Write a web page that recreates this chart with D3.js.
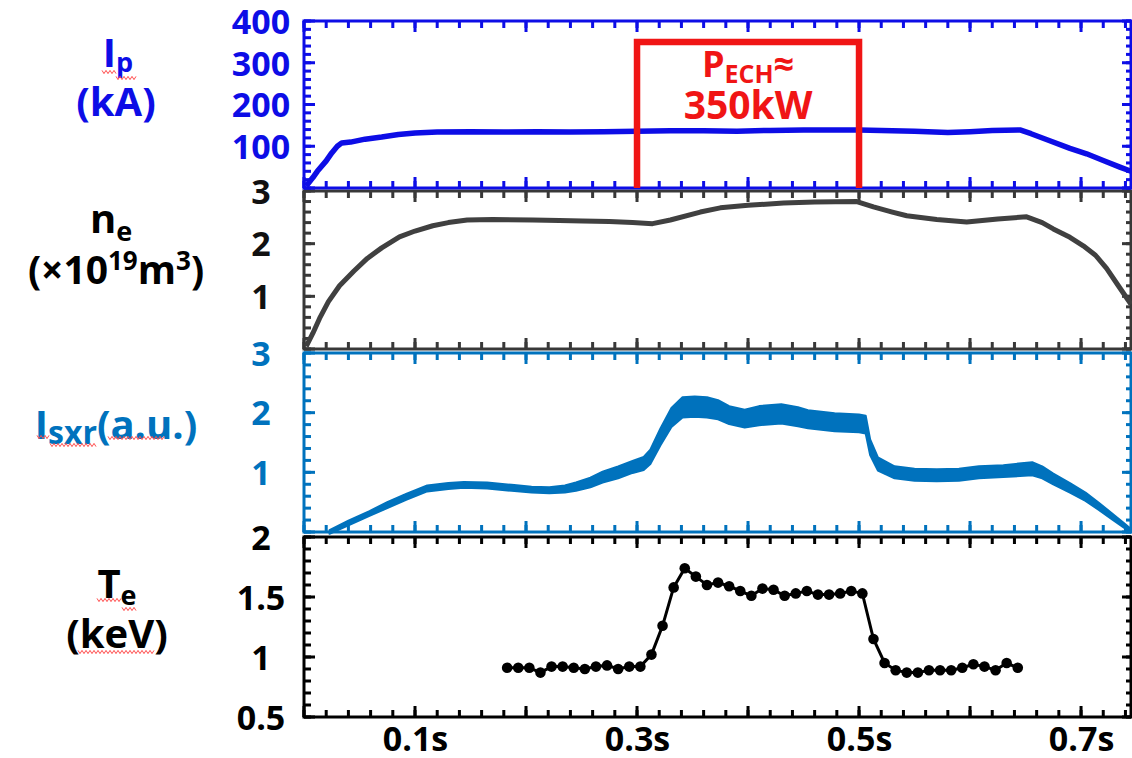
<!DOCTYPE html>
<html>
<head>
<meta charset="utf-8">
<script src="https://cdn.jsdelivr.net/npm/d3@7"></script>
<style>
  body { margin: 0; background: #fff; }
  svg { display: block; font-family: "Open Sans", "Noto Sans", sans-serif; font-weight: 700; }
</style>
</head>
<body>
<svg id="chart" width="1132" height="758"></svg>
<script>
// ---- time axis ----
const timeTicks = [0.1, 0.3, 0.5, 0.7];
const timeTickLabels = ["0.1s", "0.3s", "0.5s", "0.7s"];

// ---- plasma current Ip (kA) ----
const ipTime  = [0.002, 0.008, 0.012, 0.020, 0.025, 0.030, 0.034, 0.042, 0.055, 0.070, 0.085, 0.100,
                 0.120, 0.150, 0.180, 0.210, 0.240, 0.270, 0.300, 0.330, 0.360, 0.390, 0.420, 0.450,
                 0.480, 0.500, 0.520, 0.550, 0.580, 0.600, 0.620, 0.645, 0.655, 0.670, 0.690, 0.705,
                 0.720, 0.735, 0.745];
const ipValue = [5, 25, 40, 65, 84, 100, 108, 110, 117, 122, 128, 132,
                 134, 135, 134, 135, 134, 135, 136, 137, 137, 136, 138, 139,
                 139, 139, 138, 136, 133, 135, 138, 139, 130, 115, 95, 82,
                 66, 50, 40];
const ipTicks = [100, 200, 300, 400];

// ---- ECH heating window ----
const echWindow = [0.3, 0.5];
const echPower = 350;          // kW
const echLabel = "350kW";

// ---- line-averaged density ne (1e19 m^-3) ----
const neTime  = [0.002, 0.008, 0.014, 0.022, 0.032, 0.045, 0.057, 0.070, 0.086, 0.100, 0.116, 0.130,
                 0.147, 0.170, 0.206, 0.230, 0.251, 0.275, 0.296, 0.314, 0.330, 0.357, 0.375, 0.400,
                 0.432, 0.460, 0.498, 0.513, 0.530, 0.543, 0.570, 0.597, 0.625, 0.651, 0.665, 0.675,
                 0.690, 0.702, 0.713, 0.723, 0.733, 0.745];
const neValue = [0.05, 0.30, 0.58, 0.90, 1.20, 1.48, 1.72, 1.92, 2.13, 2.24, 2.34, 2.40,
                 2.45, 2.46, 2.45, 2.44, 2.43, 2.42, 2.40, 2.38, 2.45, 2.60, 2.68, 2.73,
                 2.77, 2.79, 2.80, 2.70, 2.60, 2.53, 2.46, 2.41, 2.47, 2.51, 2.40, 2.28,
                 2.12, 1.96, 1.78, 1.53, 1.22, 0.85];
const neTicks = [1, 2, 3];

// ---- soft X-ray intensity (a.u.): centre of the trace and half-width of its noise band ----
const sxrTime   = [0.023, 0.040, 0.059, 0.075, 0.092, 0.111, 0.130, 0.144, 0.165, 0.187, 0.205, 0.221,
                   0.235, 0.245, 0.258, 0.269, 0.283, 0.296, 0.306, 0.312, 0.321, 0.331, 0.341, 0.352,
                   0.363, 0.373, 0.383, 0.397, 0.410, 0.430, 0.445, 0.454, 0.478, 0.500, 0.506, 0.510,
                   0.517, 0.532, 0.550, 0.570, 0.590, 0.608, 0.630, 0.656, 0.665, 0.675, 0.690, 0.704,
                   0.716, 0.728, 0.738, 0.745];
const sxrCenter = [0.00, 0.15, 0.31, 0.45, 0.59, 0.73, 0.77, 0.79, 0.78, 0.74, 0.71, 0.70,
                   0.72, 0.76, 0.83, 0.92, 1.00, 1.09, 1.15, 1.26, 1.59, 1.92, 2.09, 2.10,
                   2.09, 2.05, 1.96, 1.90, 1.95, 1.98, 1.93, 1.89, 1.84, 1.82, 1.80, 1.42,
                   1.14, 1.00, 0.96, 0.95, 0.96, 1.00, 1.02, 1.06, 1.00, 0.89, 0.74, 0.59,
                   0.43, 0.26, 0.12, 0.02];
const sxrSpread = [0.03, 0.04, 0.04, 0.05, 0.05, 0.05, 0.05, 0.05, 0.05, 0.05, 0.05, 0.05,
                   0.06, 0.07, 0.08, 0.09, 0.10, 0.10, 0.11, 0.12, 0.14, 0.16, 0.17, 0.17,
                   0.17, 0.16, 0.15, 0.15, 0.16, 0.16, 0.16, 0.15, 0.15, 0.15, 0.15, 0.13,
                   0.11, 0.10, 0.10, 0.10, 0.10, 0.10, 0.10, 0.11, 0.10, 0.09, 0.08, 0.07,
                   0.06, 0.05, 0.04, 0.03];
const sxrTicks = [1, 2, 3];

// ---- electron temperature Te (keV) ----
const teTime  = [0.183, 0.193, 0.203, 0.213, 0.223, 0.233, 0.243, 0.253, 0.263, 0.273, 0.283, 0.293,
                 0.303, 0.313, 0.323, 0.333, 0.343, 0.353, 0.363, 0.373, 0.383, 0.393, 0.403, 0.413,
                 0.423, 0.433, 0.443, 0.453, 0.463, 0.473, 0.483, 0.493, 0.503, 0.513, 0.523, 0.533,
                 0.543, 0.553, 0.563, 0.573, 0.583, 0.593, 0.603, 0.613, 0.623, 0.633, 0.643];
const teValue = [0.91, 0.91, 0.91, 0.87, 0.92, 0.92, 0.91, 0.90, 0.92, 0.93, 0.90, 0.92,
                 0.92, 1.02, 1.26, 1.58, 1.74, 1.67, 1.60, 1.62, 1.59, 1.55, 1.51, 1.57,
                 1.56, 1.51, 1.53, 1.55, 1.52, 1.52, 1.53, 1.55, 1.53, 1.15, 0.95, 0.89,
                 0.87, 0.87, 0.89, 0.89, 0.89, 0.91, 0.94, 0.92, 0.89, 0.95, 0.91];
const teTicks = [0.5, 1, 1.5, 2];

// ---- colours ----
const BLUE = "#0d0de6", GREY = "#404040", SXR = "#0072bd", BLACK = "#000000", RED = "#f01515";

const svg = d3.select("#chart");
const x = d3.scaleLinear().domain([0, 0.745]).range([304, 1131]);

const panels = [
  { id: "te",  top: 537, bottom: 717, domain: [0.5, 2], ticks: teTicks,  major: 3, minor: 15, axis: BLACK, text: BLACK },
  { id: "sxr", top: 353, bottom: 532, domain: [0, 3],   ticks: sxrTicks, major: 3, minor: 15, axis: SXR,   text: SXR },
  { id: "ne",  top: 191, bottom: 349, domain: [0, 3],   ticks: neTicks,  major: 3, minor: 15, axis: "#383838", text: "#111" },
  { id: "ip",  top: 21,  bottom: 188, domain: [0, 400], ticks: ipTicks,  major: 4, minor: 20, axis: BLUE,  text: BLUE }
];
const yScales = {};
panels.forEach(p => { yScales[p.id] = d3.scaleLinear().domain(p.domain).range([p.bottom, p.top]); });

const xMinor = d3.range(0, 0.745, 0.02);
const xMajor = d3.range(0, 0.745, 0.1);
const L = x.range()[0], R = x.range()[1];
const MINOR = 7, MAJOR = 11, TW = 3;

// frames and inward-pointing ticks (ticks as small filled bars)
panels.forEach(p => {
  const y = yScales[p.id];
  const g = svg.append("g").attr("class", "frame-" + p.id);
  const bars = [];
  xMinor.forEach(v => bars.push({ h: true, pos: x(v), len: MINOR }));
  xMajor.forEach(v => bars.push({ h: true, pos: x(v), len: MAJOR }));
  y.ticks(p.minor).forEach(v => bars.push({ h: false, pos: y(v), len: MINOR }));
  y.ticks(p.major).forEach(v => bars.push({ h: false, pos: y(v), len: MAJOR }));

  // bottom / left edge
  g.selectAll("rect.t1").data(bars).join("rect").attr("class", "t1")
    .attr("x", d => d.h ? d.pos - TW / 2 : L)
    .attr("y", d => d.h ? p.bottom - d.len : d.pos - TW / 2)
    .attr("width", d => d.h ? TW : d.len)
    .attr("height", d => d.h ? d.len : TW)
    .attr("fill", p.axis);
  // top / right edge
  g.selectAll("rect.t2").data(bars).join("rect").attr("class", "t2")
    .attr("x", d => d.h ? d.pos - TW / 2 : R - d.len + 2)
    .attr("y", d => d.h ? p.top : d.pos - TW / 2)
    .attr("width", d => d.h ? TW : d.len - 2)
    .attr("height", d => d.h ? d.len : TW)
    .attr("fill", p.axis);

  g.append("rect").attr("x", L).attr("y", p.top).attr("width", R - L).attr("height", p.bottom - p.top)
    .attr("fill", "none").attr("stroke", p.axis).attr("stroke-width", 3);

  // tick labels, centred in the left margin
  const lab = svg.append("g").attr("transform", `translate(${L},0)`)
    .call(d3.axisLeft(y).tickValues(p.ticks).tickSize(0).tickPadding(43).tickFormat(d3.format("")));
  lab.select(".domain").remove();
  lab.selectAll("text").attr("text-anchor", "middle").attr("fill", p.text)
    .attr("font-size", 34).attr("font-family", '"Open Sans", sans-serif').attr("font-weight", 700)
    .attr("dy", "0.36em");
});

// time labels under the bottom panel
const xl = svg.append("g").attr("transform", `translate(0,717)`)
  .call(d3.axisBottom(x).tickValues(timeTicks).tickSize(0).tickPadding(10)
    .tickFormat((d, i) => timeTickLabels[i]));
xl.select(".domain").remove();
xl.selectAll("text").attr("fill", BLACK).attr("font-size", 34)
  .attr("font-family", '"Open Sans", sans-serif').attr("font-weight", 700);

// ---- Ip trace ----
const yIp = yScales.ip;
svg.append("path")
  .attr("d", d3.line().x((d, i) => x(ipTime[i])).y(d => yIp(d))(ipValue))
  .attr("fill", "none").attr("stroke", BLUE).attr("stroke-width", 5.5).attr("stroke-linejoin", "round");

// ECH window
svg.append("path")
  .attr("d", d3.line()([[x(echWindow[0]), yIp(0)], [x(echWindow[0]), yIp(echPower)],
                        [x(echWindow[1]), yIp(echPower)], [x(echWindow[1]), yIp(0)]]))
  .attr("fill", "none").attr("stroke", RED).attr("stroke-width", 6.5).attr("stroke-linejoin", "miter");

const echMid = x((echWindow[0] + echWindow[1]) / 2);
const pt = svg.append("text").attr("x", echMid).attr("y", 77).attr("text-anchor", "middle")
  .attr("fill", RED).attr("font-size", 36);
pt.append("tspan").text("P");
pt.append("tspan").attr("font-size", 25).attr("dy", 6).text("ECH");
pt.append("tspan").attr("dy", -6).text("≈");
svg.append("text").attr("x", echMid).attr("y", 119).attr("text-anchor", "middle")
  .attr("fill", RED).attr("font-size", 39).text(echLabel);

// ---- ne trace ----
const yNe = yScales.ne;
svg.append("path")
  .attr("d", d3.line().x((d, i) => x(neTime[i])).y(d => yNe(d))(neValue))
  .attr("fill", "none").attr("stroke", GREY).attr("stroke-width", 5).attr("stroke-linejoin", "round");

// ---- SXR trace (noise band) ----
const ySxr = yScales.sxr;
svg.append("path")
  .attr("d", d3.area().x((d, i) => x(sxrTime[i]))
    .y0((d, i) => ySxr(d - sxrSpread[i])).y1((d, i) => ySxr(d + sxrSpread[i]))(sxrCenter))
  .attr("fill", SXR).attr("stroke", SXR).attr("stroke-width", 2).attr("stroke-linejoin", "round");

// ---- Te trace ----
const yTe = yScales.te;
svg.append("path")
  .attr("d", d3.line().x((d, i) => x(teTime[i])).y(d => yTe(d))(teValue))
  .attr("fill", "none").attr("stroke", BLACK).attr("stroke-width", 3);
svg.append("g").selectAll("circle").data(teValue).join("circle")
  .attr("cx", (d, i) => x(teTime[i])).attr("cy", d => yTe(d)).attr("r", 5.3).attr("fill", BLACK);

// ---- quantity labels on the left ----
function label(lines) {
  lines.forEach(l => {
    const t = svg.append("text").attr("x", l.x).attr("y", l.y).attr("text-anchor", "middle")
      .attr("fill", l.color).attr("font-size", l.size);
    l.parts.forEach(pp => {
      const s = t.append("tspan").text(pp.t);
      if (pp.size) s.attr("font-size", pp.size);
      if (pp.dy) s.attr("dy", pp.dy);
    });
  });
}
label([
  { x: 118, y: 67, color: BLUE, size: 40, parts: [{ t: "I" }, { t: "p", size: 27, dy: 5 }] },
  { x: 116, y: 116, color: BLUE, size: 40, parts: [{ t: "(kA)" }] },
  { x: 111, y: 233, color: BLACK, size: 40, parts: [{ t: "n" }, { t: "e", size: 27, dy: 8 }] },
  { x: 116, y: 284, color: BLACK, size: 39, parts: [{ t: "(×10" }, { t: "19", size: 26, dy: -14 },
      { t: "m", dy: 14 }, { t: "3", size: 26, dy: -14 }, { t: ")", dy: 14 }] },
  { x: 116, y: 439, color: SXR, size: 40, parts: [{ t: "I" }, { t: "sxr", size: 32, dy: 5 }, { t: "(a.u.)", dy: -5 }] },
  { x: 117, y: 598, color: BLACK, size: 40, parts: [{ t: "T" }, { t: "e", size: 27, dy: 7 }] },
  { x: 117, y: 648, color: BLACK, size: 40, parts: [{ t: "(keV)" }] }
]);

// proofing squiggles under some of the label text
function squiggle(x1, x2, y) {
  const pts = [];
  for (let xx = x1, k = 0; xx <= x2; xx += 2, k++) pts.push([xx, y + (k % 2 ? 1.6 : -1.6)]);
  svg.append("path").attr("d", d3.line()(pts)).attr("fill", "none")
    .attr("stroke", "#ff4d4d").attr("stroke-width", 1);
}
[[102, 116, 72], [116, 137, 78], [37, 50, 437], [50, 97, 445], [108, 165, 438],
 [97, 122, 600], [122, 136, 609], [78, 155, 652]].forEach(s => squiggle(...s));
</script>
</body>
</html>
